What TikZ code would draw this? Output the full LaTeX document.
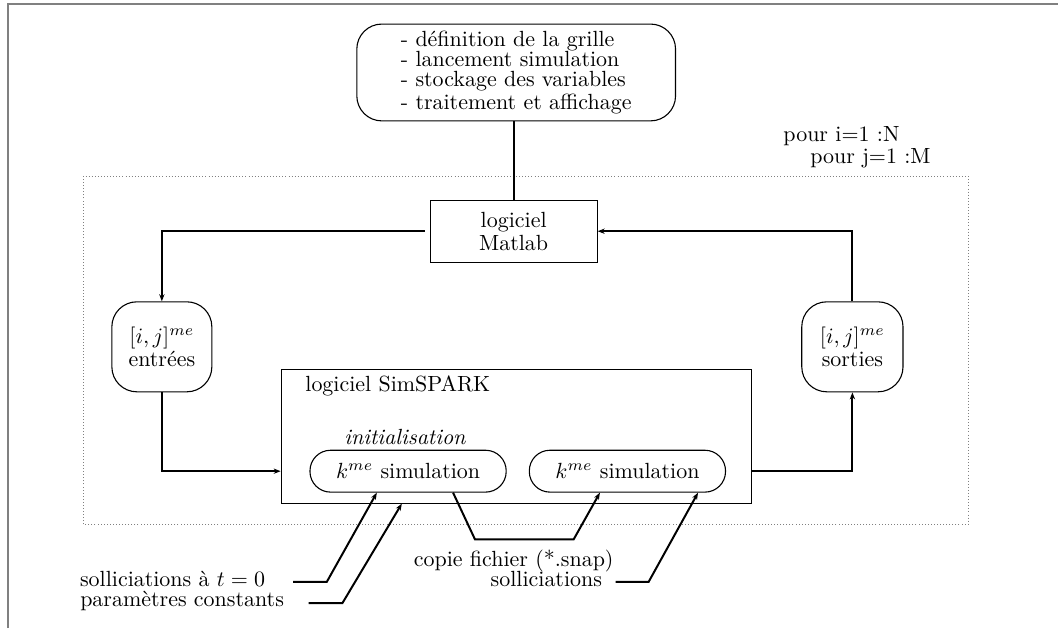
\documentclass[tikz,border=0pt]{standalone}
\usepackage{fontspec}
\usepackage{tikz}
\usetikzlibrary{shapes, arrows, arrows.meta, calc}

\begin{document}
\begin{tikzpicture}[>={Stealth[length=3.2pt,width=2.4pt]}, box/.style={draw, line width=0.5pt, align=center, font=\fontsize{10}{10.5}\selectfont}, roundbox/.style={box, rounded corners=0.4cm}, runbox/.style={box, rounded corners=0.33cm, minimum width=3.14cm, minimum height=0.67cm}, flow/.style={line width=0.9pt}, note/.style={inner sep=0pt}]

                      % page and frame edges
                      \useasboundingbox (0,0) rectangle (16.93,10.05);
                      \draw[gray, line width=0.9pt] (0.13,0) -- (0.13,9.98) -- (16.93,9.98);

                      % loop over the grid
                      \draw[gray, densely dotted, line width=0.4pt] (1.33,1.66) rectangle (15.49,7.23);
                      \node[note, anchor=west, align=left, font=\fontsize{10}{10}\selectfont] (loops) at (12.53,7.69) {pour i=1 :N\\\hspace*{0.43cm}pour j=1 :M};

                      % main script
                      \node[roundbox, align=left, minimum width=5.1cm, minimum height=1.52cm, font=\fontsize{10}{9.1}\selectfont] (script) at (8.26,8.89) {- définition de la grille\\- lancement simulation\\- stockage des variables\\- traitement et affichage};
                      \node[box, minimum width=2.67cm, minimum height=0.99cm] (matlab) at (8.22,6.35) {logiciel\\Matlab};

                      % inputs and outputs
                      \node[roundbox, minimum width=1.6cm, minimum height=1.44cm] (in) at (2.59,4.50) {$[i,j]^{me}$\\entrées};
                      \node[roundbox, minimum width=1.62cm, minimum height=1.44cm] (out) at (13.64,4.50) {$[i,j]^{me}$\\sorties};

                      % simulator
                      \node[box, minimum width=7.52cm, minimum height=2.14cm] (simspark) at (8.26,3.07) {};
                      \node[note, anchor=west] (simname) at (4.88,3.87) {logiciel SimSPARK};
                      \node[note, font=\itshape] (init) at (6.48,3.06) {initialisation};
                      \node[runbox] (run1) at (6.53,2.51) {$k^{me}$ simulation};
                      \node[runbox] (run2) at (10.04,2.51) {$k^{me}$ simulation};

                      %data exchange
                      \draw[flow] (script.south -| matlab.north) -- (matlab.north);
                      \draw[->, flow] ([xshift=-0.08cm]matlab.west) -| (in.north);
                      \draw[->, flow] (in.south) |- (simspark.west |- run1);
                      \draw[->, flow] (simspark.east |- run2) -| (out.south);
                      \draw[->, flow] (out.north) |- (matlab.east);

                      %loads and snapshot
                      \node[note, anchor=east] (initload) at (4.25,0.78) {solliciations à $t=0$};
                      \node[note, anchor=east] (params) at (4.55,0.43) {paramètres constants};
                      \node[note] (copy) at (8.22,1.08) {copie fichier (*.snap)};
                      \node[note, anchor=east] (load) at (9.64,0.78) {solliciations};
                      \draw[->, flow] ([xshift=0.44cm, yshift=-0.04cm]initload.east) -- ++(0.54,0) -- ([xshift=-0.5cm]run1.south);
                      \draw[->, flow] ([xshift=0.39cm, yshift=-0.03cm]params.east) -- ++(0.54,0) -- ([xshift=-1.83cm]simspark.south);
                      \draw[->, flow] ([xshift=0.72cm]run1.south) -- (7.60,1.42) -- (9.18,1.42) -- ([xshift=-0.44cm]run2.south);
                      \draw[->, flow] ([xshift=0.21cm, yshift=-0.04cm]load.east) -- ++(0.53,0) -- ([xshift=1.13cm]run2.south);

                    \end{tikzpicture}
\end{document}
